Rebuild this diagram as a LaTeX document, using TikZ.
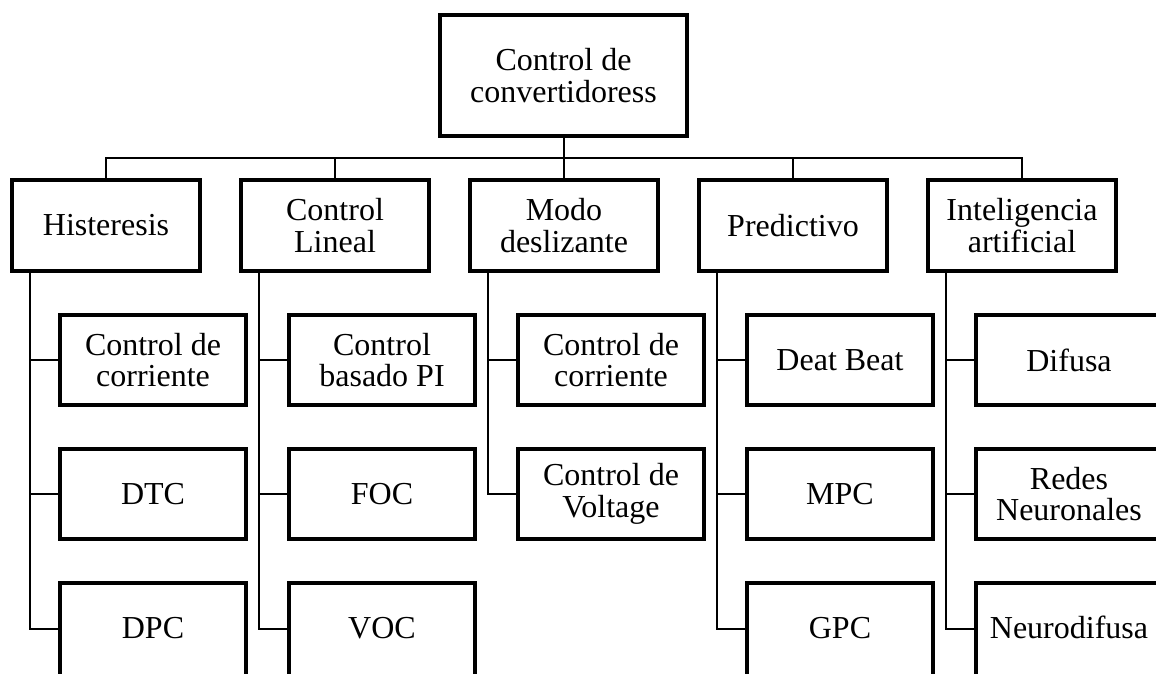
\documentclass[tikz,border=0pt]{standalone}
\usepackage{fontspec}
\setmainfont{Liberation Serif}
\begin{document}
\begin{tikzpicture}[x=1pt,y=-1pt,
  box/.style={draw, line width=4pt, inner sep=0pt, outer sep=2pt, align=center,
              font=\fontsize{32}{31.5}\selectfont},
  rootbox/.style={box, minimum width=247pt, minimum height=121pt},
  catbox/.style={box, minimum width=188pt, minimum height=91pt},
  leafbox/.style={box, minimum width=186pt, minimum height=90pt},
  lastleaf/.style={box, minimum width=186pt, minimum height=0pt,
                   text height=55pt, text depth=60pt, anchor=north},
  link/.style={line width=2pt}]
\useasboundingbox (0,0) rectangle (1156,673);
\clip (0,0) rectangle (1156,673);

% root
\node[rootbox] (root) at (563.5,75.5) {Control de\\convertidoress};

% categories
\node[catbox] (h) at (106,225.5)  {Histeresis};
\node[catbox] (l) at (335,225.5)  {Control\\Lineal};
\node[catbox] (m) at (564,225.5)  {Modo\\deslizante};
\node[catbox] (p) at (793,225.5)  {Predictivo};
\node[catbox] (i) at (1022,225.5) {Inteligencia\\artificial};

% leaves
\node[leafbox]  (h1) at (153,360) {Control de\\corriente};
\node[leafbox]  (h2) at (153,494) {DTC};
\node[lastleaf] (h3) at (153,581) {DPC};

\node[leafbox]  (l1) at (382,360) {Control\\basado PI};
\node[leafbox]  (l2) at (382,494) {FOC};
\node[lastleaf] (l3) at (382,581) {VOC};

\node[leafbox]  (m1) at (611,360) {Control de\\corriente};
\node[leafbox]  (m2) at (611,494) {Control de\\Voltage};

\node[leafbox]  (p1) at (840,360) {Deat Beat};
\node[leafbox]  (p2) at (840,494) {MPC};
\node[lastleaf] (p3) at (840,581) {GPC};

\node[leafbox]  (i1) at (1069,360) {Difusa};
\node[leafbox]  (i2) at (1069,494) {Redes\\Neuronales};
\node[lastleaf] (i3) at (1069,581) {Neurodifusa};

% bus
\coordinate (bus) at (0,158);
\draw[link] (root.south) -- (root.south |- bus);
\draw[link] (h.north) -- (h.north |- bus) -- (i.north |- bus) -- (i.north);
\foreach \n in {l,m,p} \draw[link] (\n.north) -- (\n.north |- bus);

% stems to leaves
\foreach \c in {h,l,p,i}{
  \draw[link] ([xshift=20pt]\c.south west) |- (\c1.west);
  \draw[link] ([xshift=20pt]\c.south west) |- (\c2.west);
  \draw[link] ([xshift=20pt]\c.south west) |- ([yshift=-48pt]\c3.north west);
}
\draw[link] ([xshift=20pt]m.south west) |- (m1.west);
\draw[link] ([xshift=20pt]m.south west) |- (m2.west);
\end{tikzpicture}
\end{document}
